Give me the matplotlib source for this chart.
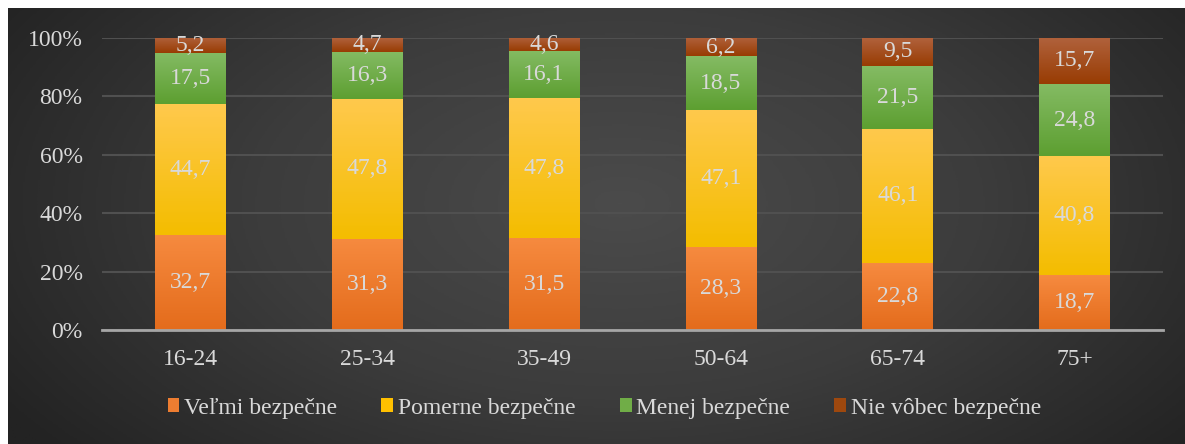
import numpy as np
import matplotlib
matplotlib.use("Agg")
import matplotlib.pyplot as plt
from matplotlib.colors import LinearSegmentedColormap
from matplotlib.patches import Patch

categories = ["16-24", "25-34", "35-49", "50-64", "65-74", "75+"]
series_names = ["Veľmi bezpečne", "Pomerne bezpečne", "Menej bezpečne", "Nie vôbec bezpečne"]
velmi = [32.7, 31.3, 31.5, 28.3, 22.8, 18.7]
pomerne = [44.7, 47.8, 47.8, 47.1, 46.1, 40.8]
menej = [17.5, 16.3, 16.1, 18.5, 21.5, 24.8]
nie = [5.2, 4.7, 4.6, 6.2, 9.5, 15.7]

# (top colour, bottom colour, legend colour)
shades = [
    ("#f68a3f", "#e46c1c", "#ed7d31"),
    ("#ffc94c", "#f4bd00", "#ffc000"),
    ("#84bb63", "#5d9f31", "#70ad47"),
    ("#b0613b", "#983c03", "#9e480e"),
]
text_col = "#d9d9d9"
fs = 17

plt.rcParams["font.family"] = ["Liberation Serif", "DejaVu Serif"]

W, H = 1185, 444
fig = plt.figure(figsize=(W / 100, H / 100), dpi=100)
fig.patch.set_facecolor("white")

# background: dark radial gradient, with a thin white strip left and top
bg = fig.add_axes([8 / W, 0, 1 - 8 / W, 1 - 8 / H])
yy, xx = np.mgrid[0:1:300j, 0:1:800j]
r = np.sqrt(((xx - 0.52) / 0.62) ** 2 + ((yy - 0.45) / 0.9) ** 2)
r = np.clip(r, 0, 1)
bg_cmap = LinearSegmentedColormap.from_list("bg", ["#4b4b4b", "#3c3c3c", "#232323"])
bg.imshow(r, cmap=bg_cmap, aspect="auto", extent=[0, 1, 0, 1], vmin=0, vmax=1)
bg.set_axis_off()

ax = fig.add_axes([102 / W, 1 - 330 / H, (1163 - 102) / W, (330 - 38) / H])
ax.patch.set_alpha(0)

data = np.array([velmi, pomerne, menej, nie])
share = data / data.sum(axis=0) * 100
x = np.arange(len(categories))
width = 0.4

bottom = np.zeros(len(categories))
for i, (vals, raw) in enumerate(zip(share, data)):
    top_c, bot_c, _ = shades[i]
    cmap = LinearSegmentedColormap.from_list(f"s{i}", [bot_c, top_c])
    bars = ax.bar(x, vals, width, bottom=bottom, color=shades[i][2], zorder=2,
                  linewidth=0)
    for b, v, lab in zip(bars, vals, raw):
        x0, y0 = b.get_x(), b.get_y()
        grad = np.linspace(1, 0, 50).reshape(-1, 1)
        im = ax.imshow(grad, cmap=cmap, aspect="auto", zorder=3,
                       extent=[x0, x0 + b.get_width(), y0, y0 + b.get_height()],
                       vmin=0, vmax=1)
        im.set_clip_path(b)
        ax.text(b.get_x() + b.get_width() / 2, y0 + b.get_height() / 2,
                f"{lab:.1f}".replace(".", ","), ha="center", va="center",
                color=text_col, fontsize=fs, zorder=5)
    bottom += vals

ax.set_xlim(-0.5, len(categories) - 0.5)
ax.set_ylim(0, 100)
ax.set_yticks(np.arange(0, 101, 20))
ax.set_yticklabels([f"{v}%" for v in range(0, 101, 20)])
ax.set_xticks(x)
ax.set_xticklabels(categories)
ax.grid(axis="y", color="#505050", linewidth=1.5, zorder=0)
ax.set_axisbelow(True)
for s in ["top", "right", "left"]:
    ax.spines[s].set_visible(False)
ax.spines["bottom"].set_color("#a6a6a6")
ax.spines["bottom"].set_linewidth(2)
ax.spines["bottom"].set_zorder(4)
ax.tick_params(axis="both", length=0, colors=text_col, labelsize=fs)
ax.tick_params(axis="x", pad=14)
ax.tick_params(axis="y", pad=14)

handles = [Patch(facecolor=c[2], edgecolor="none") for c in shades]
fig.legend(handles, series_names, loc="center", bbox_to_anchor=(0.51, 1 - 408 / H),
           ncol=4, frameon=False, fontsize=fs, labelcolor=text_col,
           handlelength=0.5, handleheight=0.5, handletextpad=0.2,
           columnspacing=1.87)

fig.savefig("out.png", dpi=100, facecolor=fig.get_facecolor())
